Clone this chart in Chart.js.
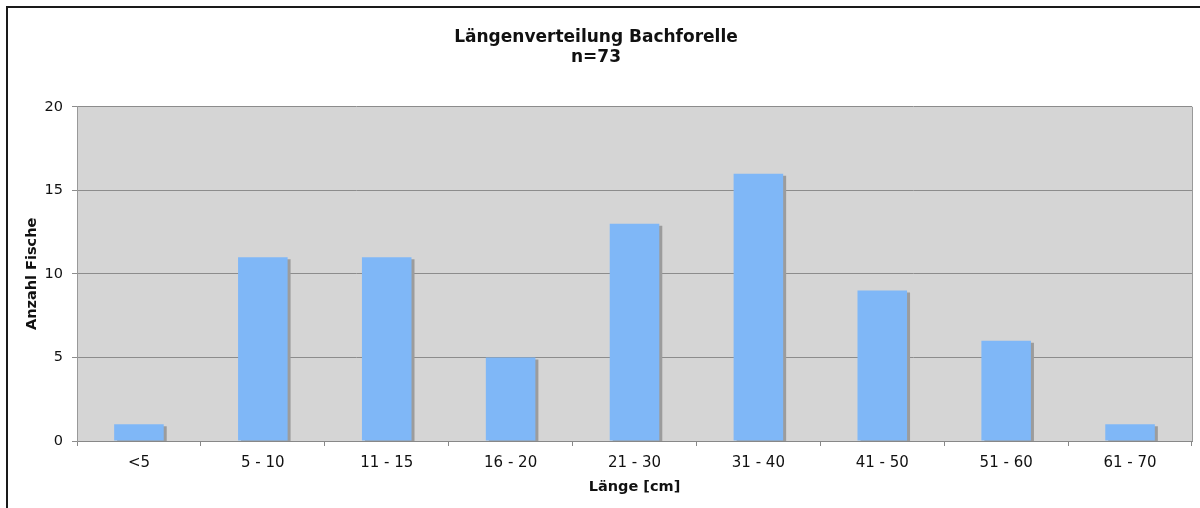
<!DOCTYPE html>
<html>
<head>
<meta charset="utf-8">
<script src="https://cdn.jsdelivr.net/npm/chart.js@4"></script>
<style>
  body { margin: 0; background: #fff; overflow: hidden; }
  #rahmen { position: absolute; left: 6px; top: 6px; width: 1300px; height: 600px; border: 2px solid #1a1a1a; }
  #wrap { position: absolute; left: 0; top: 0; width: 1200px; height: 508px; }
</style>
</head>
<body>
<div id="rahmen"></div>
<div id="wrap"><canvas id="grafico"></canvas></div>
<script>
// Daten
var klassen = ["<5", "5 - 10", "11 - 15", "16 - 20", "21 - 30", "31 - 40", "41 - 50", "51 - 60", "61 - 70"];
var anzahl = [1, 11, 11, 5, 13, 16, 9, 6, 1];
var yTicks = [0, 5, 10, 15, 20];
var titel = ["Längenverteilung Bachforelle", "n=73"];

var schrift = "'DejaVu Sans', Verdana, sans-serif";
Chart.defaults.font.family = schrift;
Chart.defaults.color = "#111";

// grauer Hintergrund + Rahmen der Zeichenfläche
var hintergrund = {
  id: "hintergrund",
  beforeDraw: function (chart) {
    var a = chart.chartArea;
    var ctx = chart.ctx;
    ctx.save();
    ctx.fillStyle = "#d5d5d5";
    ctx.fillRect(a.left, a.top, a.right - a.left, a.bottom - a.top);
    ctx.restore();
  },
  afterDraw: function (chart) {
    var a = chart.chartArea;
    var ctx = chart.ctx;
    ctx.save();
    ctx.strokeStyle = "#999";
    ctx.lineWidth = 1;
    ctx.beginPath();
    ctx.moveTo(a.right + 0.5, a.top);
    ctx.lineTo(a.right + 0.5, a.bottom);
    ctx.stroke();
    ctx.restore();
  }
};

// Schatten der Balken
var schatten = {
  id: "schatten",
  beforeDatasetDraw: function (chart) {
    var ctx = chart.ctx;
    ctx.save();
    ctx.shadowColor = "#9c9c9c";
    ctx.shadowOffsetX = 3;
    ctx.shadowOffsetY = 2;
    ctx.shadowBlur = 0;
  },
  afterDatasetDraw: function (chart) {
    chart.ctx.restore();
  }
};

new Chart(document.getElementById("grafico"), {
  type: "bar",
  data: {
    labels: klassen,
    datasets: [{
      label: "Anzahl",
      data: anzahl,
      backgroundColor: "#7fb7f7",
      borderWidth: 0,
      barPercentage: 0.4,
      categoryPercentage: 1
    }]
  },
  options: {
    responsive: true,
    maintainAspectRatio: false,
    animation: false,
    layout: { padding: { top: 7, right: 8, left: 0, bottom: 0 } },
    plugins: {
      legend: { display: false },
      tooltip: { enabled: false },
      title: {
        display: true,
        text: titel,
        color: "#111",
        font: { size: 17, weight: "bold", lineHeight: 1.2 },
        padding: { top: 20, bottom: 39 }
      }
    },
    scales: {
      x: {
        afterFit: function (s) { s.height = 67; },
        grid: { drawOnChartArea: false, drawTicks: true, tickLength: 5, color: "#888" },
        border: { display: true, color: "#888", width: 1 },
        ticks: { padding: 8, font: { size: 15 }, color: "#111", maxRotation: 0 },
        title: { display: true, text: "Länge [cm]", color: "#111", font: { size: 14.5, weight: "bold" }, padding: { top: 0, bottom: 12 } }
      },
      y: {
        min: 0,
        max: 20,
        afterFit: function (s) { s.width = 77; },
        afterBuildTicks: function (s) { s.ticks = yTicks.map(function (v) { return { value: v }; }); },
        grid: { color: "#8c8c8c", drawTicks: true, tickLength: 5 },
        border: { display: true, color: "#999", width: 1 },
        ticks: { padding: 9, font: { size: 14.5 }, color: "#111" },
        title: { display: true, text: "Anzahl Fische", color: "#111", font: { size: 14.5, weight: "bold" }, padding: { top: 24, bottom: 0 } }
      }
    }
  },
  plugins: [hintergrund, schatten]
});
</script>
</body>
</html>
